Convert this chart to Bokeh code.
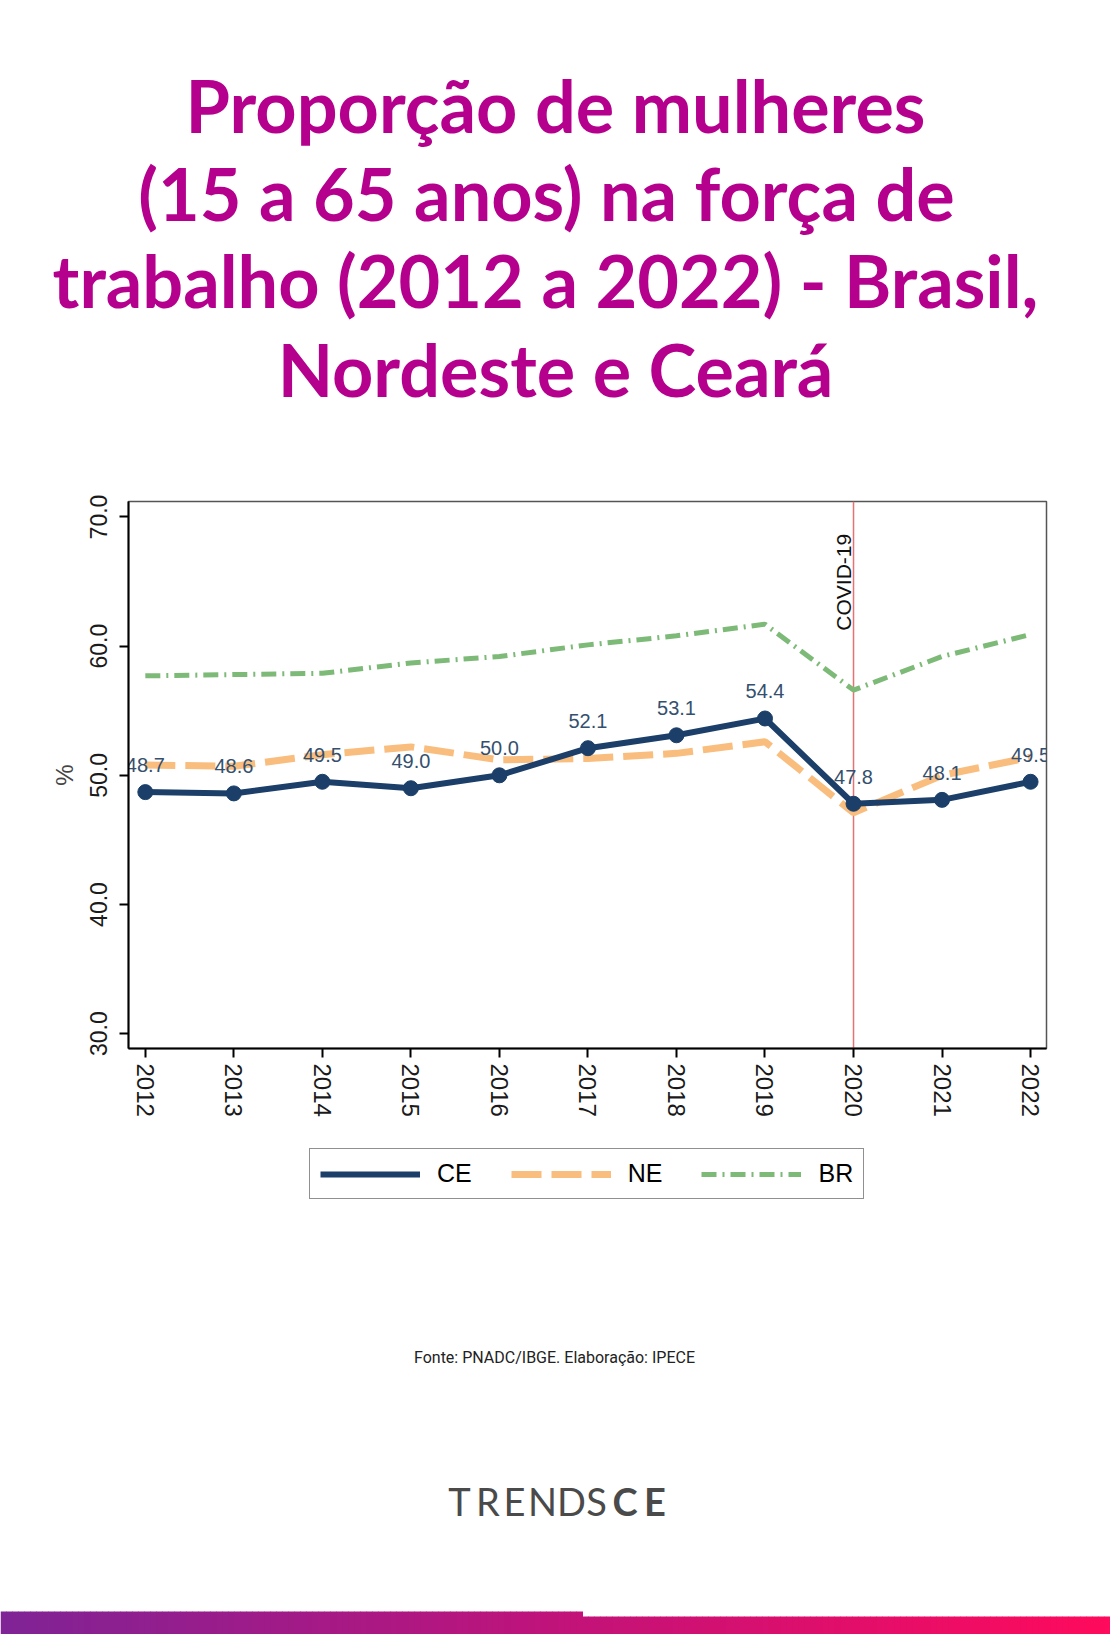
import math
from bokeh.plotting import figure
from bokeh.layouts import column
from bokeh.models import (Range1d, FixedTicker, PrintfTickFormatter, Span,
                          Legend, LegendItem)
from bokeh.core.properties import value
from bokeh.embed import file_html
from bokeh.resources import INLINE

# ---------------- data ----------------
years = [2012, 2013, 2014, 2015, 2016, 2017, 2018, 2019, 2020, 2021, 2022]
ce = [48.7, 48.6, 49.5, 49.0, 50.0, 52.1, 53.1, 54.4, 47.8, 48.1, 49.5]
ne = [50.8, 50.7, 51.6, 52.2, 51.2, 51.3, 51.7, 52.6, 47.1, 50.0, 51.4]
br = [57.7, 57.8, 57.9, 58.7, 59.2, 60.1, 60.8, 61.7, 56.6, 59.2, 60.9]
ce_labels = [f"{v:.1f}" for v in ce]
y_ticks = [30, 40, 50, 60, 70]
series_names = ["CE", "NE", "BR"]
covid_year = 2020
covid_label = "COVID-19"

title_lines = ["Proporção de mulheres",
               "(15 a 65 anos) na força de",
               "trabalho (2012 a 2022) - Brasil,",
               "Nordeste e Ceará"]
source_text = "Fonte: PNADC/IBGE. Elaboração: IPECE"
logo_thin = ["T", "R", "E", "N", "D", "S"]
logo_bold = ["C", "E"]

# ---------------- styles ----------------
W = 1110
MAGENTA = "#b5008e"
C_CE = "#1b3f68"
C_CE_LBL = "#34506e"
C_NE = "#f9bd7e"
C_BR = "#7dba78"
C_COVID = "#e57373"
AX_FONT = value("Liberation Sans")
NAN = float("nan")

# ---------------- header (page px 0..470) ----------------
hdr = figure(width=W, height=470, x_range=Range1d(0, W), y_range=Range1d(470, 0),
             x_axis_type=None, y_axis_type=None, toolbar_location=None,
             output_backend="svg", min_border=0, outline_line_color=None,
             frame_align=False)
title_x = [555, 546, 545, 555]
title_mid = [104, 192, 279, 368]
hdr.text(x=title_x, y=title_mid, text=title_lines, text_align="center",
         text_baseline="middle", text_font=value("Lato"), text_font_style="bold",
         text_font_size="72px", text_color=MAGENTA)

# ---------------- chart (page px 470..1140) ----------------
p = figure(frame_width=918, frame_height=547, x_range=Range1d(2011.81, 2022.18),
           y_range=Range1d(28.85, 71.2), toolbar_location=None, output_backend="svg",
           min_border_left=128, min_border_right=64, min_border_top=31,
           min_border_bottom=92, outline_line_color="#555555", outline_line_width=1.5,
           frame_align=False)
p.grid.visible = False

p.add_layout(Span(location=covid_year, dimension="height", line_color=C_COVID,
                  line_width=1.5, level="underlay"))

p.line(years, br, line_color=C_BR, line_width=5, line_dash="15 6 2 6")
p.line(years, ne, line_color=C_NE, line_width=7, line_dash="30 10")
p.line(years, ce, line_color=C_CE, line_width=6)
p.scatter(years, ce, size=15, color=C_CE)
p.text(x=years, y=ce, text=ce_labels, text_align="center", text_baseline="middle",
       y_offset=-27, text_font=AX_FONT, text_font_size="20px", text_color=C_CE_LBL)
p.text(x=[covid_year], y=[68.7], text=[covid_label], angle=math.pi / 2,
       text_align="right", text_baseline="middle", x_offset=-10,
       text_font=AX_FONT, text_font_size="21px", text_color="#111111")

for ax in (p.xaxis[0], p.yaxis[0]):
    ax.axis_line_color = "black"
    ax.axis_line_width = 2
    ax.major_tick_line_color = "black"
    ax.major_tick_line_width = 2
    ax.major_tick_out = 9
    ax.major_tick_in = 0
    ax.minor_tick_line_color = None
    ax.major_label_orientation = "vertical"
    ax.major_label_text_font = "Liberation Sans"
    ax.major_label_text_color = "#1a1a1a"

p.xaxis.ticker = FixedTicker(ticks=years)
p.xaxis.major_label_text_font_size = "24px"
p.xaxis.major_label_standoff = 6
p.yaxis.ticker = FixedTicker(ticks=y_ticks)
p.yaxis.formatter = PrintfTickFormatter(format="%.1f")
p.yaxis.major_label_text_font_size = "23px"
p.yaxis.major_label_standoff = 12
p.yaxis.axis_label = "%"
p.yaxis.axis_label_text_font = "Liberation Sans"
p.yaxis.axis_label_text_font_style = "normal"
p.yaxis.axis_label_text_font_size = "24px"
p.yaxis.axis_label_standoff = 10

# ---------------- footer (page px 1140..1634) ----------------
ftr = figure(width=W, height=494, x_range=Range1d(0, W), y_range=Range1d(1634, 1140),
             x_axis_type=None, y_axis_type=None, toolbar_location=None,
             output_backend="svg", min_border=0, outline_line_color=None,
             frame_align=False)

# legend keys styled like the chart's series (no visible data)
k_ce = ftr.line(x=[NAN, NAN], y=[NAN, NAN], line_color=C_CE, line_width=6)
k_ne = ftr.line(x=[NAN, NAN], y=[NAN, NAN], line_color=C_NE, line_width=7,
                line_dash="30 10")
k_br = ftr.line(x=[NAN, NAN], y=[NAN, NAN], line_color=C_BR, line_width=5,
                line_dash="15 6 2 6")
legend = Legend(items=[LegendItem(label=series_names[0], renderers=[k_ce]),
                       LegendItem(label=series_names[1], renderers=[k_ne]),
                       LegendItem(label=series_names[2], renderers=[k_br])],
                orientation="horizontal", location=(309, 435),
                glyph_width=100, glyph_height=26, label_standoff=17, spacing=39,
                padding=10, margin=0, label_text_font="Liberation Sans",
                label_text_font_size="25px", label_text_color="black",
                border_line_color="#222222", border_line_width=1.5,
                background_fill_color="white", background_fill_alpha=1.0)
ftr.add_layout(legend, "center")

ftr.text(x=[554], y=[1357], text=[source_text], text_align="center",
         text_baseline="middle", text_font=value("Roboto"), text_font_size="16px",
         text_color="#222222")
ftr.text(x=[459, 487.5, 514, 542, 571, 596], y=[1500.5] * 6, text=logo_thin,
         text_align="center", text_baseline="middle", text_font=value("Lato"),
         text_font_size="38px", text_color="#4a4a4a")
ftr.text(x=[624.5, 654.5], y=[1500.5] * 2, text=logo_bold, text_align="center",
         text_baseline="middle", text_font=value("Lato"), text_font_style="bold",
         text_font_size="38px", text_color="#4a4a4a")

# gradient bar (decoration)
stops = [(0, (0x7f, 0x23, 0x96)), (555, (0xc0, 0x13, 0x7a)), (1110, (0xff, 0x0a, 0x5c))]
def grad(x):
    for (x0, c0), (x1, c1) in zip(stops[:-1], stops[1:]):
        if x <= x1:
            t = (x - x0) / (x1 - x0)
            return "#%02x%02x%02x" % tuple(int(round(a + (b - a) * t)) for a, b in zip(c0, c1))
    return "#%02x%02x%02x" % stops[-1][1]
lefts = list(range(0, 1110, 6))
rights = [l + 6.5 for l in lefts]
tops = [1611 if l < 577 else 1616 for l in lefts]
cols = [grad(l + 3) for l in lefts]
ftr.quad(left=lefts, right=rights, top=tops, bottom=[1640] * len(lefts),
         fill_color=cols, line_color=None)

layout = column(hdr, p, ftr)
open("out.html", "w").write(file_html(layout, INLINE))
